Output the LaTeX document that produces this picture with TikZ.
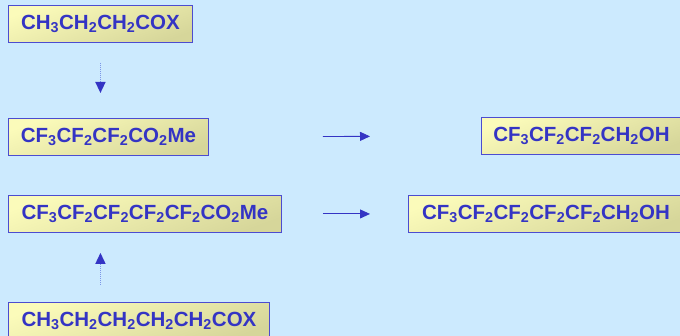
\documentclass[tikz,border=0pt]{standalone}
\usepackage{fontspec}
\setmainfont{Liberation Sans}
\usetikzlibrary{arrows.meta}
\definecolor{sfondo}{HTML}{CCEAFE}
\definecolor{inchiostro}{HTML}{3434C4}
\definecolor{bordo}{HTML}{4C4CD0}
\definecolor{gialloA}{HTML}{FBFBBA}
\definecolor{gialloB}{HTML}{D6D69A}
\definecolor{tratteggio}{HTML}{7C96E8}
\tikzset{
  formula/.style={draw=bordo, line width=0.9pt, top color=gialloA, bottom color=gialloB,
    shading angle=20, text=inchiostro, font=\fontsize{20.5}{22}\selectfont\bfseries,
    anchor=north west, minimum height=37pt, inner xsep=0pt, inner ysep=0pt},
  reazione/.style={-{Triangle[length=10pt,width=9pt]}, draw=inchiostro, line width=0.9pt},
  sintesi/.style={-{Triangle[length=11pt,width=10pt,color=inchiostro]}, draw=tratteggio,
    line width=1.5pt, dash pattern=on 1pt off 1pt}
}
\newcommand{\ped}[1]{\textsubscript{#1}}
\begin{document}
\begin{tikzpicture}[x=1pt,y=-1pt]
    % Sfondo
    \fill[sfondo] (0,0) rectangle (680,336);
    \useasboundingbox (0,0) rectangle (680,336);

    % Catena corta
    \node[formula, minimum width=184pt] (A1) at (8,5) {CH\ped{3}CH\ped{2}CH\ped{2}COX};
    \node[formula, minimum width=200pt] (E1) at (8,118) {CF\ped{3}CF\ped{2}CF\ped{2}CO\ped{2}Me};
    \node[formula, minimum width=200pt] (R1) at (481,117) {CF\ped{3}CF\ped{2}CF\ped{2}CH\ped{2}OH};

    % Catena lunga
    \node[formula, minimum width=273pt] (E2) at (8,195) {CF\ped{3}CF\ped{2}CF\ped{2}CF\ped{2}CF\ped{2}CO\ped{2}Me};
    \node[formula, minimum width=275pt] (R2) at (408,195) {CF\ped{3}CF\ped{2}CF\ped{2}CF\ped{2}CF\ped{2}CH\ped{2}OH};
    \node[formula, minimum width=261pt] (A2) at (8,302) {CH\ped{3}CH\ped{2}CH\ped{2}CH\ped{2}CH\ped{2}COX};

    % Fluorurazione
    \draw[sintesi, shorten <=20pt, shorten >=25pt] (A1.south) -- (A1.south |- E1.north);
    \draw[sintesi, shorten <=17pt, shorten >=20pt] (A2.north -| A1.south) -- (E2.south -| A1.south);

    % Riduzione
    \draw[reazione, shorten <=114pt, shorten >=111pt] (E1.east) -- (R1.west);
    \draw[reazione, shorten <=41pt, shorten >=38pt] (E2.east) -- (R2.west |- E2.east);
\end{tikzpicture}
\end{document}
